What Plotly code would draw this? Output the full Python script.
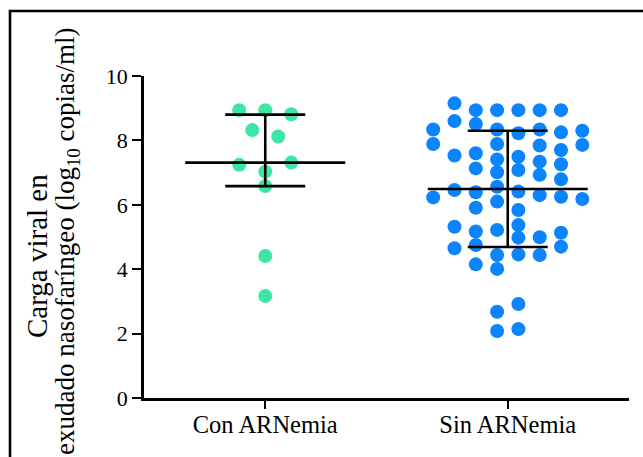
import plotly.graph_objects as go

# ---------------- data ----------------
categories = ["Con ARNemia", "Sin ARNemia"]

con_values = [8.94, 8.94, 8.81, 8.32, 8.12, 7.24, 7.03, 7.31, 6.58, 4.41, 3.17]

sin_values = [
    8.94, 8.34, 7.89, 7.41, 7.01, 6.56, 6.10, 5.22, 4.44, 4.01, 2.68, 2.08,
    8.94, 8.22, 7.49, 7.08, 6.41, 5.84, 5.37, 4.98, 4.46, 2.92, 2.14,
    8.94, 8.51, 7.60, 7.13, 6.39, 5.17, 4.75, 4.15,
    8.94, 8.34, 7.84, 7.34, 6.30, 5.91, 4.99, 4.44,
    9.15, 8.60, 7.53, 6.93, 6.46, 5.32, 4.65,
    8.94, 8.25, 7.70, 7.26, 6.79, 6.25, 5.13, 4.70,
    8.34, 7.89, 6.23,
    8.30, 7.86, 6.18,
]

# central line and error-bar ends for each group
center_values = [7.31, 6.49]
lower_values = [6.58, 4.69]
upper_values = [8.80, 8.30]

y_tick_values = [0, 2, 4, 6, 8, 10]

y_title_lines = ["Carga viral en",
                 "exudado nasofaríngeo (log<sub>10</sub> copias/ml)"]

# ---------------- layout constants ----------------
W, H = 643, 457
ML, MR, MT, MB = 144, 14, 76, 59
PW, PH = W - ML - MR, H - MT - MB
X_RANGE = (-0.5, 1.5)
Y_RANGE = (0, 10)
PX_X = PW / (X_RANGE[1] - X_RANGE[0])
PX_Y = PH / (Y_RANGE[1] - Y_RANGE[0])

GREEN = "#3EE6A6"
BLUE = "#0A84FF"
FONT = "Liberation Serif"


def swarm_rows(vals, spacing_px, row_height):
    """Group values into horizontal rows and centre each row."""
    order = sorted(range(len(vals)), key=lambda i: -vals[i])
    rows, cur, start = [], [], None
    for i in order:
        if start is None or start - vals[i] > row_height:
            if cur:
                rows.append(cur)
            cur, start = [i], vals[i]
        else:
            cur.append(i)
    if cur:
        rows.append(cur)
    offs = [0.0] * len(vals)
    for row in rows:
        row = sorted(row)
        n = len(row)
        for k, i in enumerate(row):
            offs[i] = (k - (n - 1) / 2) * spacing_px / PX_X
    return offs


def swarm_slots(vals, step_px, nslots, min_gap_px):
    """Greedy placement into fixed columns, nearest to the centre first."""
    slots = [k - (nslots - 1) / 2 for k in range(nslots)]
    pref = sorted(slots, key=lambda s: (abs(s), s))
    placed = {s: [] for s in slots}
    offs = []
    for v in vals:
        chosen = pref[-1]
        for s in pref:
            if all(abs(v - u) * PX_Y >= min_gap_px for u in placed[s]):
                chosen = s
                break
        placed[chosen].append(v)
        offs.append(chosen * step_px / PX_X)
    return offs


con_x = [0 + o for o in swarm_rows(con_values, 26, 0.5)]
sin_x = [1 + o for o in swarm_slots(sin_values, 21.3, 8, 12.4)]

fig = go.Figure()
fig.add_trace(go.Scatter(
    x=con_x, y=con_values, mode="markers",
    marker=dict(size=14, color=GREEN, line=dict(width=0)),
    cliponaxis=False, showlegend=False, hoverinfo="y"))
fig.add_trace(go.Scatter(
    x=sin_x, y=sin_values, mode="markers",
    marker=dict(size=14, color=BLUE, line=dict(width=0)),
    cliponaxis=False, showlegend=False, hoverinfo="y"))

# central line + error bars
MEAN_HALF = 80 / PX_X
CAP_HALF = 40 / PX_X
lx, ly = [], []
for g, (c, lo, hi) in enumerate(zip(center_values, lower_values, upper_values)):
    lx += [g - MEAN_HALF, g + MEAN_HALF, None]
    ly += [c, c, None]
    lx += [g, g, None]
    ly += [lo, hi, None]
    lx += [g - CAP_HALF, g + CAP_HALF, None]
    ly += [hi, hi, None]
    lx += [g - CAP_HALF, g + CAP_HALF, None]
    ly += [lo, lo, None]
fig.add_trace(go.Scatter(
    x=lx, y=ly, mode="lines", line=dict(color="black", width=2.6),
    cliponaxis=False, showlegend=False, hoverinfo="skip"))

# outer frame
fig.add_shape(type="rect", xref="paper", yref="paper",
              x0=(10 - ML) / PW, x1=1.1,
              y0=-0.3, y1=(H - MB - 11) / PH,
              line=dict(color="black", width=2.6), fillcolor="rgba(0,0,0,0)",
              layer="below")

# y-axis title as two rotated lines
for xpix, ypix, fsize, txt in zip([37, 67], [256, 241], [29, 27], y_title_lines):
    fig.add_annotation(
        text=txt, xref="paper", yref="paper",
        x=(xpix - ML) / PW, y=(H - MB - ypix) / PH,
        xanchor="center", yanchor="middle", textangle=-90, showarrow=False,
        font=dict(size=fsize, family=FONT, color="black"))

fig.update_layout(
    width=W, height=H,
    margin=dict(l=ML, r=MR, t=MT, b=MB, pad=0),
    paper_bgcolor="white", plot_bgcolor="white",
    font=dict(family=FONT, color="black"),
    xaxis=dict(
        range=list(X_RANGE), tickmode="array", tickvals=[0, 1], ticktext=categories,
        showline=True, linecolor="black", linewidth=2.6,
        ticks="outside", ticklen=8, tickwidth=2.4, tickcolor="black",
        showgrid=False, zeroline=False, tickfont=dict(size=24.5, family=FONT),
        ticklabelstandoff=-5, fixedrange=True),
    yaxis=dict(
        range=list(Y_RANGE), tickmode="array", tickvals=y_tick_values,
        showline=True, linecolor="black", linewidth=2.6,
        ticks="outside", ticklen=9, tickwidth=2.4, tickcolor="black",
        showgrid=False, zeroline=False, tickfont=dict(size=22, family=FONT),
        ticklabelstandoff=0, fixedrange=True),
)

fig.write_html("out.html", config={"displayModeBar": False},
               post_script="document.body.style.margin='0';")
